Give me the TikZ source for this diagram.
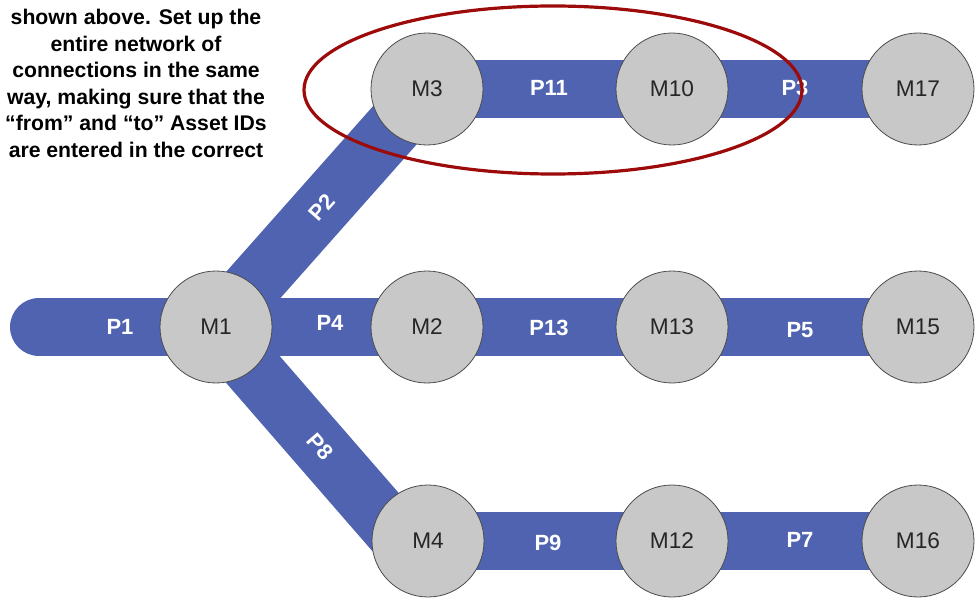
\documentclass[tikz,border=0pt]{standalone}
\usepackage{fontspec}
\setmainfont{Liberation Sans}
\definecolor{pipeblue}{HTML}{4F63B1}
\definecolor{ellred}{HTML}{9C0A0A}
\definecolor{nodegray}{HTML}{C8C8C8}
\pgfdeclarelayer{background}
\pgfsetlayers{background,main}
\begin{document}
\begin{tikzpicture}[x=0.75pt,y=-0.75pt,
  mnode/.style={circle, draw=black!70, line width=0.6pt, fill=nodegray,
    minimum size=84pt, inner sep=0pt,
    font=\fontsize{17}{19}\selectfont, text=black!85},
  pipe/.style={draw=pipeblue, line width=43.5pt},
  plabel/.style={text=white, font=\bfseries\fontsize{16.5}{19}\selectfont, inner sep=0pt},
  note/.style={font=\bfseries\fontsize{15.9}{19.9}\selectfont, align=center, inner sep=0pt, text=black},
]
\useasboundingbox (0,0) rectangle (975,599);

% machines
\node[mnode] (M3)  at (427,89)  {M3};
\node[mnode] (M10) at (672,89)  {M10};
\node[mnode] (M17) at (918,89)  {M17};
\node[mnode] (M1)  at (216,327) {M1};
\node[mnode] (M2)  at (427,327) {M2};
\node[mnode] (M13) at (672,327) {M13};
\node[mnode] (M15) at (918,327) {M15};
\node[mnode] (M4)  at (428,541) {M4};
\node[mnode] (M12) at (672,541) {M12};
\node[mnode] (M16) at (918,541) {M16};

\coordinate (p1end) at (39,327);
\coordinate (p8end) at (402,541);

\begin{pgfonlayer}{background}
  \draw[pipe, line cap=round] (p1end) -- (M1.center);
  \draw[pipe] (M1.center) -- (M3.center);
  \draw[pipe] (M1.center) -- (p8end);
  \draw[pipe] (M1.center) -- (M2.center);
  \draw[pipe] (M2.center) -- (M13.center);
  \draw[pipe] (M13.center) -- (M15.center);
  \draw[pipe] (M3.center) -- (M10.center);
  \draw[pipe] (M10.center) -- (M17.center);
  \draw[pipe] (M4.center) -- (M12.center);
  \draw[pipe] (M12.center) -- (M16.center);
\end{pgfonlayer}

% pipe labels
\node[plabel] (lP1)  at (120,327) {P1};
\node[plabel] (lP4)  at (330,323) {P4};
\node[plabel] (lP13) at (549,328) {P13};
\node[plabel] (lP5)  at (800,330) {P5};
\node[plabel] (lP11) at (549,88)  {P11};
\node[plabel] (lP3)  at (795,88)  {P3};
\node[plabel] (lP9)  at (548,543) {P9};
\node[plabel] (lP7)  at (800,540) {P7};
\node[plabel, rotate=48.6] (lP2) at (322,207) {P2};
\node[plabel, rotate=-49]  (lP8) at (320,447) {P8};

% note text
\node[note, anchor=north] (txt) at (136,9) {shown above. Set up the\\entire network of\\connections in the same\\way, making sure that the\\“from” and “to” Asset IDs\\are entered in the correct};

% highlight ellipse
\coordinate (elc) at (553,90);
\draw[ellred, line width=2.4pt] (elc) ellipse [x radius=186.75pt, y radius=63pt];
\end{tikzpicture}
\end{document}
